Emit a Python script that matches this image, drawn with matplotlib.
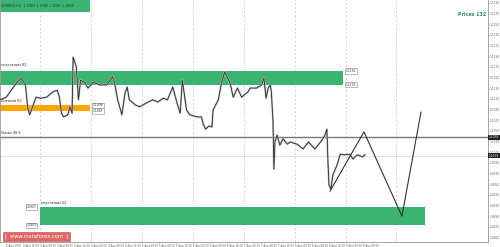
import matplotlib
matplotlib.use('Agg')
import matplotlib.pyplot as plt
import matplotlib.transforms as mtransforms

# hours from the first date label (2 Aug 08:00)
hours = [-3, 0, 3, 5, 7, 9, 10, 11, 13, 14, 16, 19, 22, 24, 25, 26, 27, 29, 30, 31,
         31.5, 33, 34, 35, 37, 38.5, 41, 44, 47.5, 50, 51, 52.5, 54.5, 56, 57, 58, 61,
         63, 66, 69, 71.5, 74, 76, 78.5, 80.5, 82, 83, 85, 86.5, 90, 92, 93, 94, 95.5,
         97, 97.5, 100, 101.5, 103, 105.5, 107, 109, 111, 114, 115, 118, 120.5, 121.5,
         122.5, 123.5, 124.5, 125, 125.8, 126.2, 126.7, 127.7, 129, 130.5, 132.5, 134,
         137, 140, 142.5, 145.5, 147, 149, 150.3, 151.2, 151.7, 152.2, 153.1, 154, 156,
         157.5, 159.7, 162, 163.5, 165.5, 168, 169.2]
prices = [1.1108, 1.1113, 1.1130, 1.1141, 1.1149, 1.1136, 1.1095, 1.1080, 1.1102, 1.1113,
          1.1111, 1.1113, 1.1123, 1.1126, 1.1113, 1.1083, 1.1076, 1.1080, 1.1095, 1.1083,
          1.1188, 1.1170, 1.1108, 1.1145, 1.1140, 1.1130, 1.1141, 1.1136, 1.1136, 1.1151,
          1.1141, 1.1108, 1.1080, 1.1121, 1.1132, 1.1108, 1.1098, 1.1095, 1.1102, 1.1108,
          1.1104, 1.1111, 1.1108, 1.1132, 1.1102, 1.1083, 1.1145, 1.1089, 1.1080, 1.1076,
          1.1076, 1.1061, 1.1053, 1.1059, 1.1057, 1.1089, 1.1108, 1.1140, 1.1160, 1.1140,
          1.1113, 1.1130, 1.1113, 1.1123, 1.1130, 1.1130, 1.1136, 1.1149, 1.1111, 1.1130,
          1.1136, 1.1123, 1.1066, 1.0978, 1.1029, 1.1042, 1.1023, 1.1035, 1.1025, 1.1029,
          1.1025, 1.1016, 1.1029, 1.1016, 1.1023, 1.1033, 1.1042, 1.1053, 1.0992, 1.0948,
          1.0941, 1.0967, 1.0986, 1.1006, 1.1005, 1.1006, 1.0997, 1.1005, 1.1001, 1.1005]

# projected path
proj_hours = [152.7, 168.7, 186.6, 195.6]
proj_prices = [1.0937, 1.1048, 1.0890, 1.1085]

# zones: (start hour, end hour, low, high)
weekly_r2 = (-3, 158.8, 1.1136, 1.1162)
daily_r2 = (-3, 39.5, 1.1087, 1.1098)
weekly_s2 = (15.9, 197.5, 1.0873, 1.0907)

level_line = 1.1038
last_price = 1.1003

ytick_vals = [round(1.1290 - 0.0020 * k, 4) for k in range(23)]
xtick_hours = list(range(0, 169, 8))
xtick_labels = ['2 Aug 2016', '2 Aug 16:00', '3 Aug 00:00', '3 Aug 08:00', '3 Aug 16:00',
                '4 Aug 00:00', '4 Aug 08:00', '4 Aug 16:00', '5 Aug 00:00', '5 Aug 08:00',
                '5 Aug 16:00', '6 Aug 00:00', '6 Aug 08:00', '6 Aug 16:00', '7 Aug 00:00',
                '7 Aug 08:00', '7 Aug 16:00', '8 Aug 00:00', '8 Aug 08:00', '8 Aug 16:00',
                '9 Aug 00:00', '9 Aug 08:00']
grid_hours = list(range(16, 185, 24))

green = '#3cb371'
orange = '#ffa500'

fig = plt.figure(figsize=(5, 2.47), dpi=100)
ax = fig.add_axes([0.0, 0.0202, 0.976, 0.9798])
ax.set_xlim(-3, 227.2)
ax.set_ylim(1.08415, 1.12951)

for h in grid_hours:
    ax.axvline(h, color='#c4c4c4', lw=0.5, linestyle=(0, (3, 3)), zorder=0)

# zones
for x0, x1, lo, hi in [weekly_r2, weekly_s2]:
    ax.fill_between([x0, x1], lo, hi, color=green, lw=0, zorder=1)
ax.fill_between(daily_r2[:2], daily_r2[2], daily_r2[3], color=orange, lw=0, zorder=1)

# header box top-left
ax.fill_between([-3, 39.5], 1.1273, 1.1300, color=green, lw=0, zorder=1)
ax.text(-2.5, 1.1284, 'EURUSD,H1  1.1003 1.1006 1.1001 1.1005', fontsize=2.4,
        color='#1a3a20', va='center', zorder=5)

# horizontal lines
ax.axhline(level_line, color='#777777', lw=1.0, zorder=2)
ax.axhline(last_price, color='#e2e2e2', lw=0.8, zorder=0)

# price series
ax.plot(hours, prices, color='#c0c0c0', lw=1.4, zorder=3)
ax.plot(hours, prices, color='#2a2a2a', lw=0.6, zorder=4)

# projection
ax.plot(proj_hours, proj_prices, color='#333333', lw=0.8, zorder=4)

# zone labels
small = dict(fontsize=2.4, color='#333333', zorder=5)
ax.text(-2.5, 1.1170, 'недельный R2', va='bottom', **small)
ax.text(-2.5, 1.1104, 'Дневной R2', va='bottom', **small)
ax.text(16.5, 1.0911, 'недельный S2', va='bottom', **small)
ax.text(-2.5, 1.1042, 'Линия 98.6', va='bottom', **small)

box = dict(boxstyle='square,pad=0.2', fc='white', ec='#888888', lw=0.4)
for x, y in [(weekly_r2[1], weekly_r2[3]), (weekly_r2[1], weekly_r2[2]),
             (daily_r2[1], daily_r2[3]), (daily_r2[1], daily_r2[2])]:
    ax.text(x + 1.2, y, f'{y:.4f}', fontsize=2.2, color='#333333', va='center',
            ha='left', bbox=box, zorder=6)
for y in [weekly_s2[3], weekly_s2[2]]:
    ax.text(weekly_s2[0] - 1.5, y, f'{y:.4f}', fontsize=2.2, color='#333333',
            va='center', ha='right', bbox=box, zorder=6)

trans = mtransforms.blended_transform_factory(ax.transAxes, ax.transData)
ax.text(0.997, 1.1267, 'Prices 132', transform=trans, fontsize=3.4, color='#2e8b57',
        fontweight='bold', ha='right', va='center')

# right axis price boxes
for y in [level_line, last_price]:
    ax.text(1.002, y, f'{y:.4f}', transform=trans, fontsize=2.1, color='white',
            va='center', ha='left', clip_on=False,
            bbox=dict(boxstyle='square,pad=0.2', fc='#222222', ec='none'), zorder=7)

# watermark
ax.text(0.01, 0.012, '|  www.instaforex.com  |', transform=ax.transAxes, fontsize=3.8,
        color='white', va='bottom', ha='left',
        bbox=dict(boxstyle='square,pad=0.35', fc='#e06666', ec='#cc4444', lw=0.4), zorder=8)

ax.yaxis.tick_right()
ax.set_yticks(ytick_vals)
ax.set_yticklabels([f'{v:.4f}' for v in ytick_vals], fontsize=2.1, color='#444444')
ax.set_xticks(xtick_hours)
ax.set_xticklabels(xtick_labels, fontsize=1.9, color='#444444', ha='left')
ax.tick_params(axis='both', length=1.0, width=0.4, pad=0.5, colors='#666666')
for s in ax.spines.values():
    s.set_color('#999999')
    s.set_linewidth(0.6)
ax.spines['top'].set_visible(False)

fig.savefig('out.png', dpi=100)
